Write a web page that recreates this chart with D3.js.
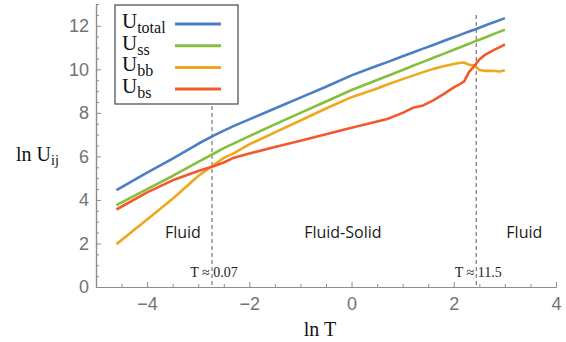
<!DOCTYPE html>
<html><head><meta charset="utf-8">
<script src="https://cdn.jsdelivr.net/npm/d3@7"></script>
<style>body{margin:0;background:#fff}svg{display:block}</style>
</head><body>
<svg id="c" width="566" height="342"></svg>
<script>
const lnT = [-4.6,-4,-3.5,-3,-2.7,-2.5,-2.3,-2,-1.5,-1,-0.5,0,0.5,0.7,1.0,1.2,1.4,1.6,1.8,2.0,2.1,2.2,2.3,2.4,2.5,2.6,2.7,2.8,2.9,3.0];
const Utotal = [4.45,5.25,5.9,6.58,6.95,7.18,7.4,7.7,8.2,8.7,9.2,9.72,10.16,10.33,10.6,10.77,10.95,11.12,11.3,11.47,11.56,11.65,11.74,11.82,11.91,12.0,12.09,12.17,12.26,12.35];
const Uss = [3.76,4.5,5.1,5.75,6.12,6.38,6.6,6.93,7.47,8.0,8.52,9.05,9.51,9.69,9.97,10.16,10.34,10.53,10.71,10.9,10.99,11.08,11.17,11.27,11.36,11.45,11.54,11.64,11.73,11.82];
const Ubb = [1.97,3.1,4.05,5.1,5.6,5.93,6.15,6.55,7.1,7.65,8.2,8.72,9.12,9.3,9.55,9.71,9.87,10.02,10.14,10.24,10.29,10.31,10.21,10.18,9.97,9.93,9.93,9.92,9.9,9.96];
const Ubs = [3.56,4.35,4.9,5.33,5.55,5.72,5.94,6.13,6.43,6.72,7.02,7.32,7.6,7.72,8.0,8.23,8.34,8.57,8.86,9.17,9.3,9.43,9.88,10.15,10.45,10.65,10.78,10.9,11.02,11.14];
const seriesNames = ["total","ss","bb","bs"];
const seriesColors = ["#4a7fc4","#86bf3c","#eea81e","#f05a2c"];
const xTicks = [-4,-2,0,2,4];
const yTicks = [0,2,4,6,8,10,12];
const transitions = [{x:-2.73,label:"T \u2248 0.07"},{x:2.44,label:"T \u2248 11.5"}];
const regions = [{x:-3.3,label:"Fluid"},{x:-0.17,label:"Fluid-Solid"},{x:3.38,label:"Fluid"}];

const svg = d3.select("#c");
const x = d3.scaleLinear().domain([-5,4]).range([96,556]);
const y = d3.scaleLinear().domain([0,13]).range([287,4]);
const axisCol = "#8c8c8c", labCol = "#737373";

const xMinor = d3.range(-5,4.001,0.5).filter(v=>!xTicks.includes(v));
const yMinor = d3.range(0,13.001,0.5).filter(v=>!yTicks.includes(v));
const gx = svg.append("g").attr("transform",`translate(0,${y(0)})`);
gx.call(d3.axisBottom(x).tickValues(xTicks).tickSize(-5).tickSizeOuter(0).tickPadding(10).tickFormat(d=>d<0?"\u2212"+Math.abs(d):d));
gx.append("g").call(d3.axisBottom(x).tickValues(xMinor).tickSize(-3).tickSizeOuter(0).tickFormat(""));
const gy = svg.append("g").attr("transform",`translate(${x(-5)},0)`);
gy.call(d3.axisLeft(y).tickValues(yTicks).tickSize(-5).tickSizeOuter(0).tickPadding(7));
gy.append("g").call(d3.axisLeft(y).tickValues(yMinor).tickSize(-3).tickSizeOuter(0).tickFormat(""));
svg.selectAll(".domain").attr("stroke",axisCol).attr("stroke-width",1.2);
svg.selectAll(".tick line").attr("stroke",axisCol);
svg.selectAll(".tick text").attr("fill",labCol).attr("font-family","Liberation Sans, Arial, sans-serif").attr("font-size",18);

transitions.forEach(t=>{
  svg.append("line").attr("x1",x(t.x)).attr("x2",x(t.x)).attr("y1",y(12.5)).attr("y2",y(0))
    .attr("stroke","#777").attr("stroke-width",1.2).attr("stroke-dasharray","4,3");
  svg.append("text").attr("x",x(t.x)+2).attr("y",277).attr("text-anchor","middle")
    .attr("font-family","Liberation Serif, serif").attr("font-size",14).attr("fill","#222").text(t.label);
});
regions.forEach(r=>{
  svg.append("text").attr("x",x(r.x)).attr("y",238).attr("text-anchor","middle")
    .attr("font-family","Open Sans, sans-serif").attr("font-size",16).attr("fill","#1a1a1a").text(r.label);
});

const data = [Utotal,Uss,Ubb,Ubs];
const line = d3.line().x((d,i)=>x(lnT[i])).y(d=>y(d));
data.forEach((s,k)=>{
  svg.append("path").attr("d",line(s)).attr("fill","none").attr("stroke",seriesColors[k])
    .attr("stroke-width",2.6).attr("stroke-linejoin","round");
});

const lg = svg.append("g");
lg.append("rect").attr("x",115).attr("y",5).attr("width",123).attr("height",99)
  .attr("fill","#fff").attr("stroke","#555").attr("stroke-width",1.3);
seriesNames.forEach((n,k)=>{
  const yy = 24 + k*21.7;
  const t = lg.append("text").attr("x",122).attr("y",yy+4).attr("font-family","Liberation Serif, serif").attr("font-size",21).attr("fill","#111");
  t.append("tspan").text("U");
  t.append("tspan").attr("dy",5).attr("font-size",16).text(n);
  lg.append("line").attr("x1",175).attr("x2",221).attr("y1",yy).attr("y2",yy)
    .attr("stroke",seriesColors[k]).attr("stroke-width",3);
});

const yl = svg.append("text").attr("x",16).attr("y",161).attr("font-family","Liberation Serif, serif").attr("font-size",20).attr("fill","#111");
yl.append("tspan").text("ln U");
yl.append("tspan").attr("dy",4).attr("font-size",14).text("ij");
svg.append("text").attr("x",320).attr("y",336).attr("text-anchor","middle").attr("font-family","Liberation Serif, serif")
  .attr("font-size",20).attr("fill","#111").text("ln T");
</script>
</body></html>
